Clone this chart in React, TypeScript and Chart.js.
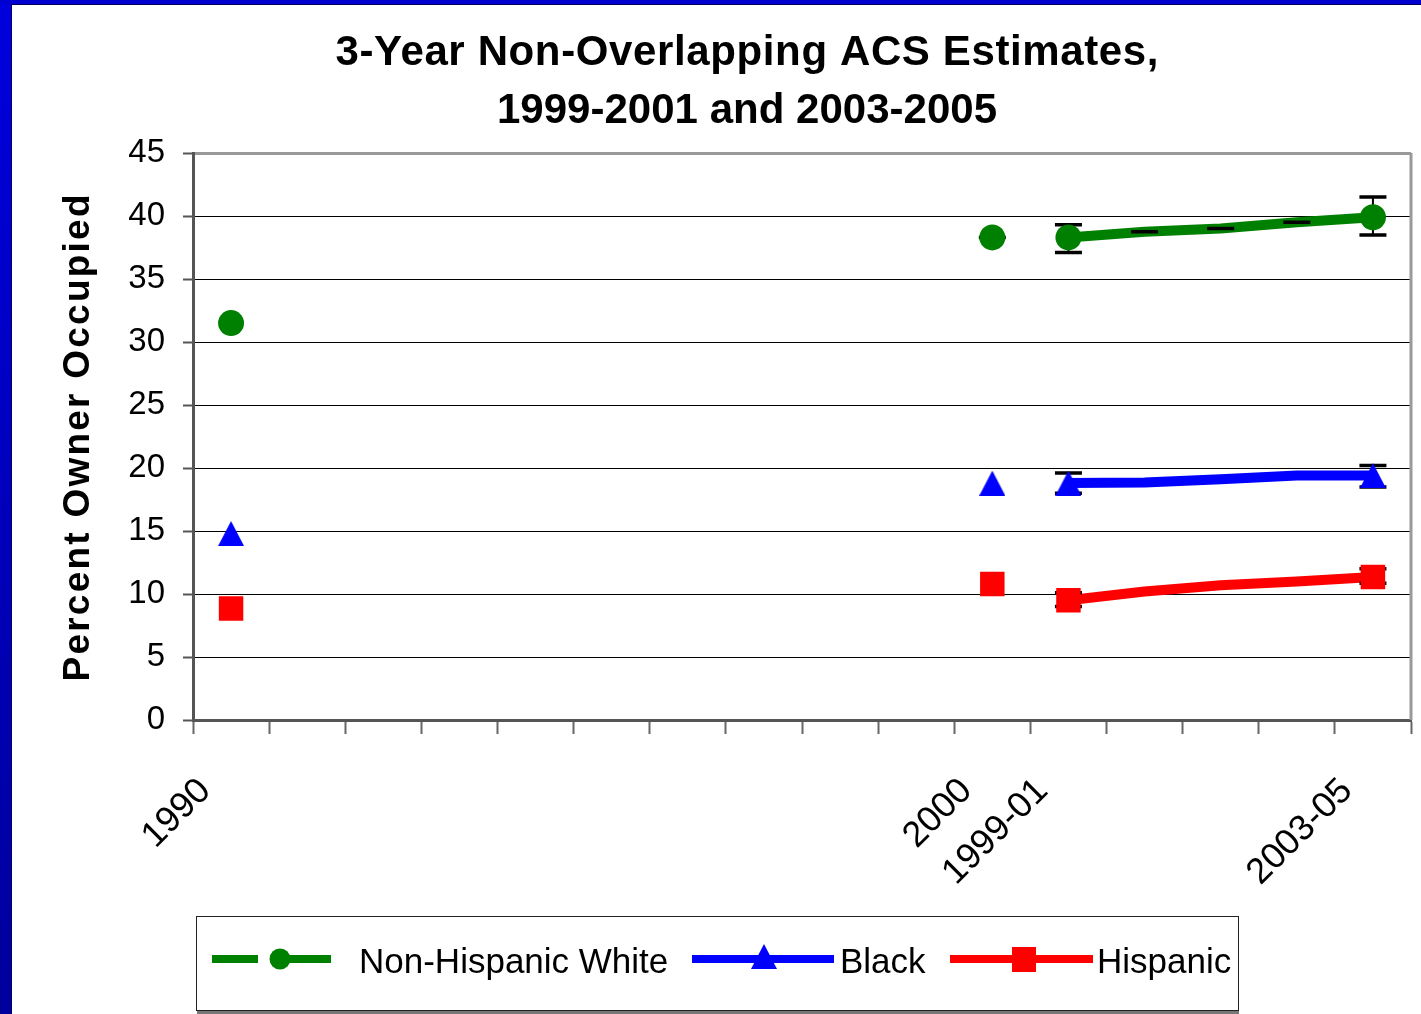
import React, { useEffect, useRef } from 'react';
import { Chart, registerables } from 'chart.js';

Chart.register(...registerables);

// ---------- data ----------
const titleLines = ['3-Year Non-Overlapping ACS Estimates,', '1999-2001 and 2003-2005'];
const yAxisTitle = 'Percent Owner Occupied';
const categories = ['1990', '', '', '', '', '', '', '', '', '', '2000', '1999-01', '', '', '', '2003-05'];
const seriesNames = ['Non-Hispanic White', 'Black', 'Hispanic'];
const seriesColors = ['#008000', '#0000FF', '#FF0000'];

const whiteValues = [31.5, null, null, null, null, null, null, null, null, null, 38.3, 38.3, 38.75, 39.0, 39.5, 39.9];
const blackValues = [14.8, null, null, null, null, null, null, null, null, null, 18.8, 18.8, 18.85, 19.1, 19.4, 19.4];
const hispanicValues = [8.85, null, null, null, null, null, null, null, null, null, 10.8, 9.5, 10.2, 10.7, 11.0, 11.35];

const whiteErrLow = [null, null, null, null, null, null, null, null, null, null, 38.3, 37.1, 38.75, 39.0, 39.5, 38.5];
const whiteErrHigh = [null, null, null, null, null, null, null, null, null, null, 38.3, 39.3, 38.75, 39.0, 39.5, 41.5];
const blackErrLow = [null, null, null, null, null, null, null, null, null, null, null, 18.0, null, null, null, 18.5];
const blackErrHigh = [null, null, null, null, null, null, null, null, null, null, null, 19.6, null, null, null, 20.2];
const hispanicErrLow = [null, null, null, null, null, null, null, null, null, null, null, 9.0, null, null, null, 10.85];
const hispanicErrHigh = [null, null, null, null, null, null, null, null, null, null, null, 10.1, null, null, null, 12.0];

const markerIndices = [0, 10, 11, 15];
const acsStartIndex = 11;
const yMin = 0;
const yMax = 45;
const yStep = 5;

// ---------- helpers ----------
const FONT = "'Liberation Sans', Arial, Helvetica, sans-serif";

function makeTriangle(w: number, h: number, color: string): HTMLCanvasElement {
  const c = document.createElement('canvas');
  c.width = w;
  c.height = h;
  const g = c.getContext('2d')!;
  g.fillStyle = color;
  g.beginPath();
  g.moveTo(w / 2, 0);
  g.lineTo(w, h);
  g.lineTo(0, h);
  g.closePath();
  g.fill();
  return c;
}

function fitText(ctx: any, text: string, x: number, y: number, target: number) {
  ctx.letterSpacing = '0px';
  const w = ctx.measureText(text).width;
  const sp = Math.max(0, (target - w) / Math.max(1, text.length - 1));
  ctx.letterSpacing = `${sp}px`;
  ctx.fillText(text, x + sp / 2, y);
  ctx.letterSpacing = '0px';
}

const allValues = [whiteValues, blackValues, hispanicValues];
const errorSets: [Array<number | null>, Array<number | null>][] = [
  [whiteErrLow, whiteErrHigh],
  [blackErrLow, blackErrHigh],
  [hispanicErrLow, hispanicErrHigh],
];

export default function App() {
  const ref = useRef<HTMLCanvasElement | null>(null);

  useEffect(() => {
    const canvas = ref.current;
    if (!canvas) return;
    const triangle = makeTriangle(26, 25, seriesColors[1]);
    const markerRadius = (r: number) => categories.map((_, i) => (markerIndices.includes(i) ? r : 0));
    const lineData = (vals: Array<number | null>) => vals.map((v, i) => (i >= acsStartIndex ? v : null));

    const backgroundPlugin = {
      id: 'bgFrame',
      beforeDraw(chart: any) {
        const ctx = chart.ctx;
        const { width, height } = chart;
        ctx.save();
        ctx.fillStyle = '#FFFFFF';
        ctx.fillRect(0, 0, width, height);
        const grad = ctx.createLinearGradient(0, 0, 0, height);
        grad.addColorStop(0, '#0000DD');
        grad.addColorStop(1, '#00009C');
        ctx.fillStyle = grad;
        ctx.fillRect(0, 0, 11, height);
        ctx.fillStyle = '#0000D0';
        ctx.fillRect(0, 0, width, 4);
        ctx.fillStyle = '#000060';
        ctx.fillRect(11, 4, 1, height);
        ctx.fillRect(11, 4, width, 1);
        ctx.restore();
      },
    };

    const titlePlugin = {
      id: 'customTitle',
      afterDraw(chart: any) {
        const ctx = chart.ctx;
        ctx.save();
        ctx.fillStyle = '#000';
        ctx.font = `bold 42px ${FONT}`;
        ctx.textAlign = 'center';
        ctx.textBaseline = 'middle';
        const targets = [823, 500];
        titleLines.forEach((t, i) => fitText(ctx, t, 747, 53 + i * 58, targets[i]));
        ctx.translate(79, 438);
        ctx.rotate(-Math.PI / 2);
        ctx.font = `bold 37px ${FONT}`;
        fitText(ctx, yAxisTitle, 0, 0, 487);
        ctx.restore();
      },
    };

    const borderPlugin = {
      id: 'plotBorder',
      afterDraw(chart: any) {
        const { ctx, chartArea } = chart;
        ctx.save();
        ctx.strokeStyle = '#999';
        ctx.lineWidth = 3;
        ctx.beginPath();
        ctx.moveTo(chartArea.right, chartArea.top);
        ctx.lineTo(chartArea.right, chartArea.bottom);
        ctx.stroke();
        ctx.restore();
      },
    };

    const errorBarPlugin = {
      id: 'errorBars',
      afterDatasetDraw(chart: any, args: any) {
        if (args.index !== 3) return;
        const ctx = chart.ctx;
        const xs = chart.scales.x;
        const ys = chart.scales.y;
        ctx.save();
        ctx.strokeStyle = '#000';
        errorSets.forEach(([lo, hi]) => {
          lo.forEach((l, i) => {
            const h = hi[i];
            if (l == null || h == null) return;
            const px = xs.getPixelForValue(i);
            const pl = ys.getPixelForValue(l);
            const ph = ys.getPixelForValue(h);
            ctx.lineWidth = 2;
            ctx.beginPath();
            ctx.moveTo(px, pl);
            ctx.lineTo(px, ph);
            ctx.stroke();
            ctx.lineWidth = 3.5;
            ctx.beginPath();
            ctx.moveTo(px - 13.5, pl);
            ctx.lineTo(px + 13.5, pl);
            ctx.moveTo(px - 13.5, ph);
            ctx.lineTo(px + 13.5, ph);
            ctx.stroke();
          });
        });
        ctx.restore();
      },
    };

    const legendPlugin = {
      id: 'customLegend',
      afterDraw(chart: any) {
        const ctx = chart.ctx;
        ctx.save();
        ctx.fillStyle = '#777';
        ctx.fillRect(197, 1010, 1042, 4);
        ctx.strokeStyle = '#222';
        ctx.lineWidth = 1;
        ctx.strokeRect(196.5, 916.5, 1042, 94);
        const cy = 959;
        ctx.lineWidth = 8;
        ctx.strokeStyle = seriesColors[0];
        ctx.beginPath();
        ctx.moveTo(212, cy);
        ctx.lineTo(258, cy);
        ctx.moveTo(282, cy);
        ctx.lineTo(331, cy);
        ctx.stroke();
        ctx.fillStyle = seriesColors[0];
        ctx.beginPath();
        ctx.arc(280, cy, 10.5, 0, Math.PI * 2);
        ctx.fill();
        ctx.strokeStyle = seriesColors[1];
        ctx.beginPath();
        ctx.moveTo(692, cy);
        ctx.lineTo(834, cy);
        ctx.stroke();
        ctx.drawImage(triangle, 764 - 13, 944);
        ctx.strokeStyle = seriesColors[2];
        ctx.beginPath();
        ctx.moveTo(950, cy);
        ctx.lineTo(1093, cy);
        ctx.stroke();
        ctx.fillStyle = seriesColors[2];
        ctx.fillRect(1012, 947, 24, 25);
        ctx.fillStyle = '#000';
        ctx.font = `35px ${FONT}`;
        ctx.textAlign = 'left';
        ctx.textBaseline = 'alphabetic';
        ctx.fillText(seriesNames[0], 359, 973);
        ctx.fillText(seriesNames[1], 840, 973);
        ctx.fillText(seriesNames[2], 1097, 973);
        ctx.restore();
      },
    };

    const markerStyles: any[] = ['circle', triangle, 'rect'];
    const markerSizes = [13, 13, 17.3];

    const markerDatasets = allValues.map((vals, k) => ({
      label: seriesNames[k],
      data: vals,
      showLine: false,
      borderColor: seriesColors[k],
      backgroundColor: seriesColors[k],
      pointStyle: markerStyles[k],
      pointRadius: markerRadius(markerSizes[k]),
      pointBorderWidth: 0,
      pointBackgroundColor: seriesColors[k],
      pointBorderColor: seriesColors[k],
    }));
    const lineDatasets = allValues.map((vals, k) => ({
      label: seriesNames[k] + ' line',
      data: lineData(vals),
      borderColor: seriesColors[k],
      backgroundColor: seriesColors[k],
      borderWidth: 10,
      pointRadius: 0,
      spanGaps: false,
      tension: 0,
    }));

    const chart = new Chart(canvas, {
      type: 'line',
      data: {
        labels: categories,
        datasets: [...markerDatasets, ...lineDatasets] as any,
      },
      plugins: [backgroundPlugin, borderPlugin, errorBarPlugin, titlePlugin, legendPlugin],
      options: {
        animation: false,
        responsive: false,
        maintainAspectRatio: false,
        layout: { autoPadding: false, padding: { left: 0, right: 10, top: 153, bottom: 0 } },
        plugins: {
          legend: { display: false },
          title: { display: false },
          tooltip: { enabled: false },
        },
        scales: {
          x: {
            type: 'category',
            offset: true,
            afterFit: (scale: any) => {
              scale.height = 1014 - 720;
              scale.paddingLeft = 0;
              scale.paddingRight = 0;
            },
            grid: {
              display: true,
              offset: true,
              drawOnChartArea: false,
              drawTicks: true,
              tickLength: 14,
              tickWidth: 2,
              tickColor: '#666',
              color: '#666',
            },
            border: { display: true, color: '#555', width: 3 },
            ticks: {
              autoSkip: false,
              minRotation: 45,
              maxRotation: 45,
              padding: 36,
              labelOffset: -26,
              color: '#000',
              font: { family: FONT, size: 36 },
            },
          },
          y: {
            type: 'linear',
            min: yMin,
            max: yMax,
            afterFit: (scale: any) => {
              scale.width = 193;
            },
            grid: {
              drawTicks: true,
              tickLength: 10,
              tickWidth: 2,
              tickColor: '#555',
              color: (c: any) => (c.tick && c.tick.value === yMax ? '#999' : '#000'),
              lineWidth: (c: any) => (c.tick && c.tick.value === yMax ? 3 : 1),
            },
            border: { display: true, color: '#555', width: 3 },
            ticks: {
              stepSize: yStep,
              padding: 18,
              color: '#000',
              font: { family: FONT, size: 33 },
            },
            title: { display: false },
          },
        },
      } as any,
    });
    return () => chart.destroy();
  }, []);

  return (
    <div style={{ position: 'fixed', left: 0, top: 0, width: 1421, height: 1014, background: '#fff' }}>
      <canvas ref={ref} width={1421} height={1014} style={{ display: 'block' }} />
    </div>
  );
}
